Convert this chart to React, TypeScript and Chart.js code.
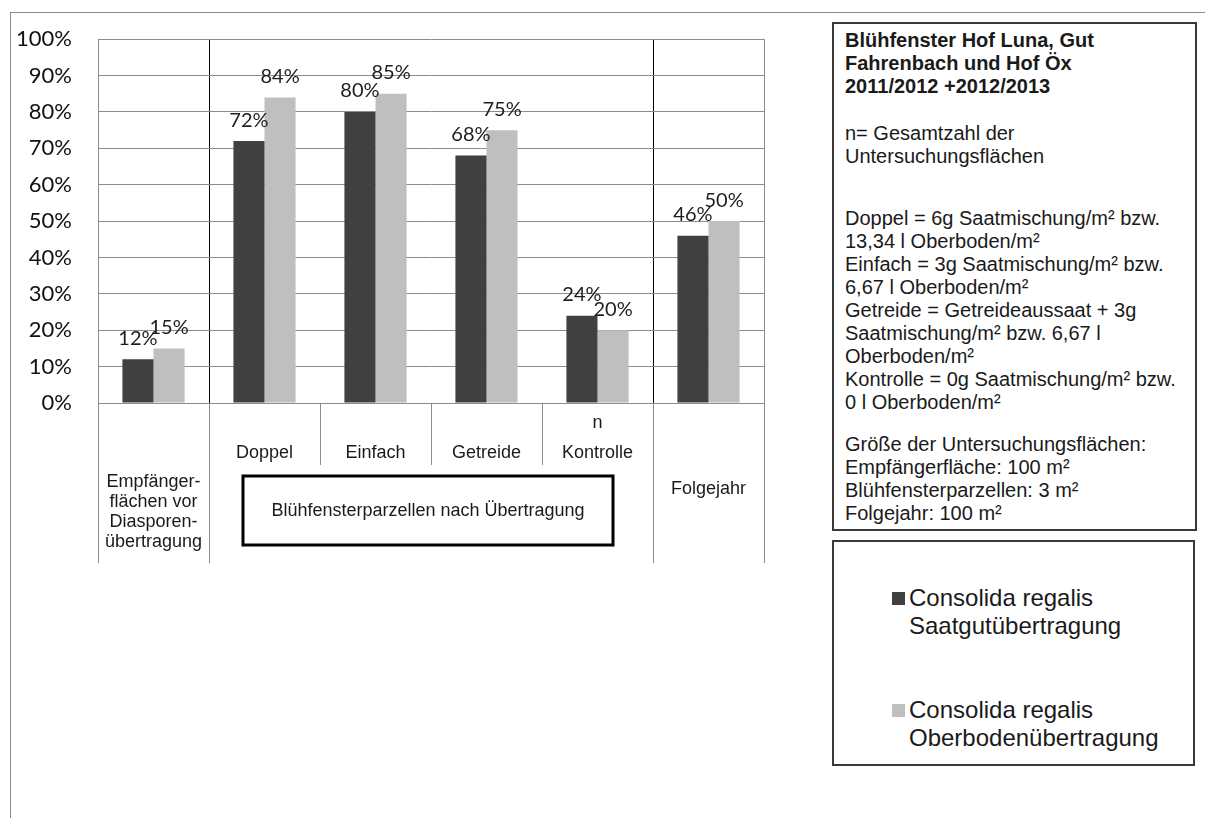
import React, { useEffect, useRef } from "react";
import { Chart, registerables } from "chart.js";

Chart.register(...registerables);

// ---------- data ----------
const categoryLines: string[][] = [
  ["Empfänger-", "flächen vor", "Diasporen-", "übertragung"],
  ["Doppel"],
  ["Einfach"],
  ["Getreide"],
  ["n", "Kontrolle"],
  ["Folgejahr"],
];
const groupLabel = "Blühfensterparzellen nach Übertragung";

const seriesLegendLines: string[][] = [
  ["Consolida regalis", "Saatgutübertragung"],
  ["Consolida regalis", "Oberbodenübertragung"],
];
const saatgutValues = [12, 72, 80, 68, 24, 46];
const oberbodenValues = [15, 84, 85, 75, 20, 50];
const seriesColors = ["#404040", "#BFBFBF"];

const yMin = 0;
const yMax = 100;
const yStep = 10;

const infoTitle = ["Blühfenster Hof Luna, Gut", "Fahrenbach und Hof Öx", "2011/2012 +2012/2013"];
const infoN = ["n= Gesamtzahl der", "Untersuchungsflächen"];
const infoDefs = [
  "Doppel = 6g Saatmischung/m² bzw.",
  "13,34 l Oberboden/m²",
  "Einfach = 3g Saatmischung/m² bzw.",
  "6,67 l Oberboden/m²",
  "Getreide = Getreideaussaat + 3g",
  "Saatmischung/m² bzw. 6,67 l",
  "Oberboden/m²",
  "Kontrolle = 0g Saatmischung/m² bzw.",
  "0 l Oberboden/m²",
];
const infoSizes = [
  "Größe der Untersuchungsflächen:",
  "Empfängerfläche: 100 m²",
  "Blühfensterparzellen: 3 m²",
  "Folgejahr: 100 m²",
];

// ---------- styles ----------
const TABLE_FONT = "18px 'Liberation Sans', Arial, sans-serif";
const LABEL_FONT = "20px Lato, sans-serif";
const TEXT_FONT = "'Liberation Sans', Arial, sans-serif";

const dataLabelPlugin = {
  id: "dataLabels",
  afterDatasetsDraw(chart: any) {
    const ctx = chart.ctx;
    ctx.save();
    ctx.font = LABEL_FONT;
    ctx.fillStyle = "#1e1e1e";
    ctx.textAlign = "center";
    ctx.textBaseline = "middle";
    chart.data.datasets.forEach((ds: any, di: number) => {
      const meta = chart.getDatasetMeta(di);
      meta.data.forEach((bar: any, i: number) => {
        ctx.fillText(`${ds.data[i]}%`, bar.x, bar.y - 21);
      });
    });
    ctx.restore();
  },
};

const tablePlugin = {
  id: "categoryTable",
  afterDraw(chart: any) {
    const ctx = chart.ctx;
    const xs = chart.scales.x;
    const area = chart.chartArea;
    const n = chart.data.labels.length;
    const w = (area.right - area.left) / n;
    const bottom = area.bottom;
    ctx.save();
    // separators
    ctx.strokeStyle = "#8c8c8c";
    ctx.lineWidth = 1;
    for (let i = 0; i <= n; i++) {
      const bx = Math.round(area.left + i * w) + 0.5;
      const outer = i <= 1 || i >= n - 1;
      ctx.beginPath();
      ctx.moveTo(bx, bottom);
      ctx.lineTo(bx, bottom + (outer ? 160 : 62));
      ctx.stroke();
    }
    // labels
    ctx.font = TABLE_FONT;
    ctx.fillStyle = "#1a1a1a";
    ctx.textAlign = "center";
    ctx.textBaseline = "middle";
    categoryLines.forEach((lines, i) => {
      const cx = xs.getPixelForValue(i);
      if (i === 0) {
        lines.forEach((t, j) => ctx.fillText(t, cx, bottom + 79 + j * 20));
      } else if (i === n - 1) {
        lines.forEach((t, j) => ctx.fillText(t, cx, bottom + 86 + j * 20));
      } else {
        const last = lines.length - 1;
        lines.forEach((t, j) => ctx.fillText(t, cx, bottom + 50 - (last - j) * 30));
      }
    });
    // group box
    const left = area.left + w + 34;
    const right = area.left + (n - 1) * w - 40;
    const top = bottom + 73;
    const bot = bottom + 142;
    ctx.strokeStyle = "#000";
    ctx.lineWidth = 3;
    ctx.strokeRect(left, top, right - left, bot - top);
    ctx.fillText(groupLabel, (left + right) / 2, (top + bot) / 2 + 1);
    ctx.restore();
  },
};

function ChartCanvas() {
  const ref = useRef<HTMLCanvasElement | null>(null);
  useEffect(() => {
    if (!ref.current) return;
    const chart = new Chart(ref.current, {
      type: "bar",
      data: {
        labels: categoryLines.map((l) => l.join(" ")),
        datasets: [
          {
            label: seriesLegendLines[0].join(" "),
            data: saatgutValues,
            backgroundColor: seriesColors[0],
            categoryPercentage: 0.56,
            barPercentage: 1.0,
          },
          {
            label: seriesLegendLines[1].join(" "),
            data: oberbodenValues,
            backgroundColor: seriesColors[1],
            categoryPercentage: 0.56,
            barPercentage: 1.0,
          },
        ],
      },
      options: {
        animation: false,
        responsive: false,
        devicePixelRatio: 1,
        layout: { padding: { left: 0, top: 39, right: 16, bottom: 177 } },
        plugins: {
          legend: { display: false },
          tooltip: { enabled: false },
        },
        scales: {
          x: {
            ticks: { display: false },
            border: { display: false },
            grid: {
              drawTicks: false,
              lineWidth: 1,
              color: (c: any) => {
                if (c.index === undefined) return "#8c8c8c";
                if (c.index === 1 || c.index === 5) return "#000000";
                return "rgba(0,0,0,0)";
              },
            },
            afterFit: (axis: any) => {
              axis.height = 0;
            },
          },
          y: {
            min: yMin,
            max: yMax,
            ticks: {
              stepSize: yStep,
              padding: 26,
              color: "#111111",
              font: { family: "Lato, sans-serif", size: 22 },
              callback: (v: any) => `${v}%`,
            },
            border: { display: true, color: "#8c8c8c", width: 1 },
            grid: { color: "#8c8c8c", lineWidth: 1, drawTicks: false },
            afterFit: (axis: any) => {
              axis.width = 98;
            },
          },
        },
      },
      plugins: [dataLabelPlugin, tablePlugin],
    });
    return () => chart.destroy();
  }, []);
  return (
    <canvas
      ref={ref}
      width={780}
      height={580}
      style={{ position: "absolute", left: 0, top: 0, width: 780, height: 580 }}
    />
  );
}

function Lines({ lines, top, bold }: { lines: string[]; top: number; bold?: boolean }) {
  return (
    <>
      {lines.map((t, i) => (
        <div
          key={i}
          style={{
            position: "absolute",
            left: 845,
            top: top - 11.5 + i * 23,
            height: 23,
            lineHeight: "23px",
            fontSize: 20,
            fontWeight: bold ? "bold" : "normal",
            fontFamily: TEXT_FONT,
            color: "#1a1a1a",
            whiteSpace: "nowrap",
          }}
        >
          {t}
        </div>
      ))}
    </>
  );
}

export default function App() {
  return (
    <div
      style={{
        position: "absolute",
        left: 0,
        top: 0,
        width: 1205,
        height: 818,
        background: "#fff",
        overflow: "hidden",
      }}
    >
      {/* outer frame */}
      <div
        style={{
          position: "absolute",
          left: 10,
          top: 12,
          width: 1200,
          height: 820,
          borderTop: "1px solid #8c8c8c",
          borderLeft: "1px solid #8c8c8c",
        }}
      />
      <ChartCanvas />
      {/* info box */}
      <div
        style={{
          position: "absolute",
          left: 832,
          top: 22,
          width: 365,
          height: 509,
          boxSizing: "border-box",
          border: "2px solid #3a3a3a",
        }}
      />
      <Lines lines={infoTitle} top={40} bold />
      <Lines lines={infoN} top={133} />
      <Lines lines={infoDefs} top={218} />
      <Lines lines={infoSizes} top={444} />
      {/* legend box */}
      <div
        style={{
          position: "absolute",
          left: 832,
          top: 540,
          width: 363,
          height: 226,
          boxSizing: "border-box",
          border: "2px solid #3a3a3a",
        }}
      />
      {seriesLegendLines.map((lines, i) => (
        <div key={i}>
          <div
            style={{
              position: "absolute",
              left: 892,
              top: 592 + i * 112,
              width: 13,
              height: 13,
              background: seriesColors[i],
            }}
          />
          {lines.map((t, j) => (
            <div
              key={j}
              style={{
                position: "absolute",
                left: 909,
                top: 598 + i * 112 + j * 28 - 14,
                height: 28,
                lineHeight: "28px",
                fontSize: 24,
                fontFamily: TEXT_FONT,
                color: "#1a1a1a",
                whiteSpace: "nowrap",
              }}
            >
              {t}
            </div>
          ))}
        </div>
      ))}
    </div>
  );
}
